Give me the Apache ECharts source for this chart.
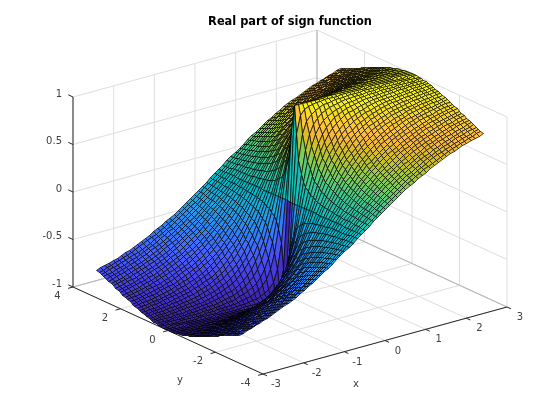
<!DOCTYPE html>
<html><head><meta charset="utf-8">
<style>html,body{margin:0;padding:0;background:#fff}#c{width:560px;height:420px}</style>
<script src="https://cdn.jsdelivr.net/npm/echarts@6/dist/echarts.min.js"></script>
</head><body><div id="c"></div>
<script>
const titleText = 'Real part of sign function';
const xTicks = [-3,-2,-1,0,1,2,3];
const yTicks = [-4,-2,0,2,4];
const zTicks = [-1,-0.5,0,0.5,1];
const xName = 'x', yName = 'y';
// surface heights for x = 0, .1 ... 3 (rows) and |y| = 0, .1 ... 3 (columns); other quadrants mirror it
const zQuadrant = [
[0,0,0,0,0,0,0,0,0,0,0,0,0,0,0,0,0,0,0,0,0,0,0,0,0,0,0,0,0,0,0],
[1,.707,.447,.316,.243,.196,.164,.141,.124,.110,.100,.090,.083,.077,.071,.067,.062,.059,.055,.053,.050,.048,.045,.043,.042,.040,.038,.037,.036,.034,.033],
[1,.894,.707,.555,.447,.371,.316,.275,.243,.217,.196,.179,.164,.152,.141,.132,.124,.117,.110,.105,.100,.095,.090,.087,.083,.080,.077,.074,.071,.069,.067],
[1,.949,.832,.707,.600,.514,.447,.394,.351,.316,.287,.263,.243,.225,.210,.196,.184,.174,.164,.156,.148,.141,.135,.129,.124,.119,.115,.110,.107,.103,.100],
[1,.970,.894,.800,.707,.625,.555,.496,.447,.406,.371,.342,.316,.294,.275,.258,.243,.229,.217,.206,.196,.187,.179,.171,.164,.158,.152,.147,.141,.137,.132],
[1,.981,.928,.857,.781,.707,.640,.581,.530,.486,.447,.414,.385,.359,.336,.316,.298,.282,.268,.254,.243,.232,.222,.212,.204,.196,.189,.182,.176,.170,.164],
[1,.986,.949,.894,.832,.768,.707,.651,.600,.555,.514,.479,.447,.419,.394,.371,.351,.333,.316,.301,.287,.275,.263,.252,.243,.233,.225,.217,.210,.203,.196],
[1,.990,.962,.919,.868,.814,.759,.707,.659,.614,.573,.537,.504,.474,.447,.423,.401,.381,.362,.346,.330,.316,.303,.291,.280,.270,.260,.251,.243,.235,.227],
[1,.992,.970,.936,.894,.848,.800,.753,.707,.664,.625,.588,.555,.524,.496,.471,.447,.426,.406,.388,.371,.356,.342,.329,.316,.305,.294,.284,.275,.266,.258],
[1,.994,.976,.949,.914,.874,.832,.789,.747,.707,.669,.633,.600,.569,.541,.514,.490,.468,.447,.428,.410,.394,.379,.364,.351,.339,.327,.316,.306,.296,.287],
[1,.995,.981,.958,.928,.894,.857,.819,.781,.743,.707,.673,.640,.610,.581,.555,.530,.507,.486,.466,.447,.430,.414,.399,.385,.371,.359,.347,.336,.326,.316],
[1,.996,.984,.965,.940,.910,.878,.844,.809,.774,.740,.707,.676,.646,.618,.591,.567,.543,.521,.501,.482,.464,.447,.431,.417,.403,.390,.377,.366,.355,.344],
[1,.997,.986,.970,.949,.923,.894,.864,.832,.800,.768,.737,.707,.678,.651,.625,.600,.577,.555,.534,.514,.496,.479,.463,.447,.433,.419,.406,.394,.382,.371],
[1,.997,.988,.974,.956,.933,.908,.880,.852,.822,.793,.763,.735,.707,.680,.655,.631,.607,.585,.565,.545,.526,.509,.492,.476,.461,.447,.434,.421,.409,.398],
[1,.997,.990,.978,.962,.942,.919,.894,.868,.841,.814,.786,.759,.733,.707,.682,.659,.636,.614,.593,.573,.555,.537,.520,.504,.489,.474,.460,.447,.435,.423],
[1,.998,.991,.981,.966,.949,.928,.906,.882,.857,.832,.806,.781,.756,.731,.707,.684,.662,.640,.620,.600,.581,.563,.546,.530,.514,.500,.486,.472,.459,.447],
[1,.998,.992,.983,.970,.954,.936,.916,.894,.871,.848,.824,.800,.776,.753,.729,.707,.685,.664,.644,.625,.606,.588,.571,.555,.539,.524,.510,.496,.483,.471],
[1,.998,.993,.985,.973,.959,.943,.925,.905,.884,.862,.840,.817,.794,.772,.750,.728,.707,.687,.667,.648,.629,.611,.594,.578,.562,.547,.533,.519,.506,.493],
[1,.998,.994,.986,.976,.964,.949,.932,.914,.894,.874,.853,.832,.811,.789,.768,.747,.727,.707,.688,.669,.651,.633,.616,.600,.584,.569,.555,.541,.527,.514],
[1,.999,.994,.988,.979,.967,.954,.938,.922,.904,.885,.865,.845,.825,.805,.785,.765,.745,.726,.707,.689,.671,.654,.637,.621,.605,.590,.575,.561,.548,.535],
[1,.999,.995,.989,.981,.970,.958,.944,.928,.912,.894,.876,.857,.838,.819,.800,.781,.762,.743,.725,.707,.690,.673,.656,.640,.625,.610,.595,.581,.568,.555],
[1,.999,.995,.990,.982,.973,.962,.949,.935,.919,.903,.886,.868,.850,.832,.814,.795,.777,.759,.741,.724,.707,.690,.674,.659,.643,.628,.614,.600,.586,.573],
[1,.999,.996,.991,.984,.975,.965,.953,.940,.925,.910,.894,.878,.861,.844,.826,.809,.791,.774,.757,.740,.723,.707,.691,.676,.661,.646,.632,.618,.604,.591],
[1,.999,.996,.992,.985,.977,.968,.957,.945,.931,.917,.902,.886,.870,.854,.838,.821,.804,.787,.771,.755,.738,.722,.707,.692,.677,.663,.648,.635,.621,.608],
[1,.999,.997,.992,.986,.979,.970,.960,.949,.936,.923,.909,.894,.879,.864,.848,.832,.816,.800,.784,.768,.753,.737,.722,.707,.693,.678,.664,.651,.638,.625],
[1,.999,.997,.993,.987,.981,.972,.963,.952,.941,.928,.915,.902,.887,.872,.857,.842,.827,.811,.796,.781,.766,.751,.736,.721,.707,.693,.679,.666,.653,.640],
[1,.999,.997,.993,.988,.982,.974,.966,.956,.945,.933,.921,.908,.894,.880,.866,.852,.837,.822,.807,.793,.778,.763,.749,.735,.721,.707,.694,.680,.668,.655],
[1,.999,.997,.994,.989,.983,.976,.968,.959,.949,.938,.926,.914,.901,.888,.874,.860,.846,.832,.818,.804,.789,.775,.761,.747,.733,.720,.707,.694,.681,.669],
[1,.999,.997,.994,.990,.984,.978,.970,.961,.952,.942,.931,.919,.907,.894,.881,.868,.855,.841,.827,.814,.800,.786,.773,.759,.746,.733,.720,.707,.695,.682],
[1,.999,.998,.995,.991,.985,.979,.972,.964,.955,.945,.935,.924,.912,.900,.888,.876,.863,.850,.836,.823,.810,.797,.784,.770,.757,.744,.732,.719,.707,.695],
[1,.999,.998,.995,.991,.986,.981,.974,.966,.958,.949,.939,.928,.917,.906,.894,.882,.870,.857,.845,.832,.819,.806,.794,.781,.768,.756,.743,.731,.719,.707]
];
const parula = [[.2422,.1504,.6603],[.2504,.165,.7076],[.2578,.1818,.7511],[.2647,.1978,.7952],[.2706,.2147,.8364],[.2751,.2342,.871],[.2783,.2559,.8991],[.2803,.2782,.9221],[.2813,.3006,.9414],[.281,.3228,.9579],[.2795,.3447,.9717],[.276,.3667,.9829],[.2699,.3892,.9906],[.2602,.4123,.9952],[.244,.4358,.9988],[.2206,.4603,.9973],[.1963,.4847,.9892],[.1834,.5074,.9798],[.1786,.5289,.9682],[.1764,.5499,.952],[.1687,.5703,.9359],[.154,.5902,.9218],[.146,.6091,.9079],[.138,.6276,.8973],[.1248,.6459,.8883],[.1113,.6635,.8763],[.0952,.6798,.8598],[.0689,.6948,.8394],[.0297,.7082,.8163],[.0036,.7203,.7917],[.0067,.7312,.766],[.0433,.7411,.7394],[.0964,.75,.712],[.1408,.7584,.6842],[.1717,.767,.6554],[.1938,.7758,.6251],[.2161,.7843,.5923],[.247,.7918,.5567],[.2906,.7973,.5188],[.3406,.8008,.4789],[.3909,.8029,.4354],[.4456,.8024,.3909],[.5044,.7993,.348],[.5616,.7942,.3045],[.6174,.7876,.2612],[.672,.7793,.2227],[.7242,.7698,.191],[.7738,.7598,.1646],[.8203,.7498,.1535],[.8634,.7406,.1596],[.9035,.733,.1774],[.9393,.7288,.21],[.9728,.7298,.2394],[.9956,.7434,.2371],[.997,.7659,.2199],[.9952,.7861,.199],[.9892,.8073,.1795],[.9786,.8292,.164],[.9676,.8533,.1487],[.961,.8825,.1233],[.9597,.9065,.1423],[.9628,.9373,.1265],[.9691,.9606,.1064],[.9769,.9839,.0805]];

// orthographic view of the box, in page pixels
const org = [263, 374], ex = [244/6, -67/6], ey = [-190/8, -87/8], ez = [0, -95];
function proj(x, y, z) {
  return [org[0] + (x+3)*ex[0] + (y+4)*ey[0],
          org[1] + (x+3)*ex[1] + (y+4)*ey[1] + (z+1)*ez[1]];
}
const zAt = (ix, iy) => { const s = Math.sign(ix-30); return s * zQuadrant[Math.abs(ix-30)][Math.abs(iy-30)]; };
const gx = i => -3 + i*0.1;

function colorOf(z) {
  const k = Math.min(63, Math.max(0, Math.floor((z+1)/2*64)));
  const c = parula[k];
  return 'rgb(' + Math.round(c[0]*255) + ',' + Math.round(c[1]*255) + ',' + Math.round(c[2]*255) + ')';
}

// box
const GRID = '#dedede', BACK = '#b4b4b4', AXIS = '#262626';
const segs = [];
const seg = (a, b, c) => segs.push([...a, ...b, c]);
xTicks.forEach(x => { seg([x,-4,-1],[x,4,-1],GRID); seg([x,4,-1],[x,4,1],GRID); });
yTicks.forEach(y => { seg([-3,y,-1],[3,y,-1],GRID); seg([3,y,-1],[3,y,1],GRID); });
zTicks.forEach(z => { seg([-3,4,z],[3,4,z],GRID); seg([3,-4,z],[3,4,z],GRID); });
seg([-3,4,-1],[3,4,-1],BACK); seg([3,-4,-1],[3,4,-1],BACK); seg([3,4,-1],[3,4,1],BACK);
seg([-3,-4,-1],[3,-4,-1],AXIS); seg([-3,-4,-1],[-3,4,-1],AXIS); seg([-3,4,-1],[-3,4,1],AXIS);
xTicks.forEach(x => seg([x,-4,-1],[x,-4.17,-1],AXIS));
yTicks.forEach(y => seg([-3,y,-1],[-3.12,y,-1],AXIS));
zTicks.forEach(z => seg([-3,4,z],[-3,4.2,z],AXIS));

// surface cells, far corner first
const cells = [];
for (let i = 59; i >= 0; i--) for (let j = 59; j >= 0; j--) cells.push([i, j]);

// labels
const labels = [];
const lab = (t, p, dx, dy, align) => labels.push([String(t), p[0]+dx, p[1]+dy, align]);
xTicks.forEach(x => lab(x, proj(x,-4,-1), 13, 10.5, 'center'));
yTicks.forEach(y => lab(y, proj(-3,y,-1), -12.5, 9.5, 'right'));
zTicks.forEach(z => lab(z, proj(-3,4,z), -11, -3, 'right'));
lab(xName, proj(0,-4,-1), -29, 43.5, 'center');
lab(yName, proj(-3,0,-1), 12, 49.5, 'center');

const snap = v => Math.floor(v) + 0.5;

const chart = echarts.init(document.getElementById('c'), null, {renderer:'canvas'});
chart.setOption({
  animation:false,
  backgroundColor:'#fff',
  title:{text:titleText,left:285,top:12,textAlign:'center',
    textStyle:{fontFamily:'DejaVu Sans',fontWeight:'bold',fontSize:11.4,color:'#000'}},
  grid:{left:0,right:0,top:0,bottom:0},
  xAxis:{type:'value',min:0,max:560,show:false},
  yAxis:{type:'value',min:0,max:420,inverse:true,show:false},
  series:[
    {type:'custom',coordinateSystem:'cartesian2d',silent:true,z:1,clip:false,progressive:0,
     data:segs.map((s,i)=>[i]),
     renderItem(p,api){
       const s=segs[api.value(0)];
       const a=api.coord(proj(s[0],s[1],s[2])), b=api.coord(proj(s[3],s[4],s[5]));
       return {type:'line',shape:{x1:a[0],y1:a[1],x2:b[0],y2:b[1]},style:{stroke:s[6],lineWidth:1,fill:null}};
     }},
    {type:'custom',coordinateSystem:'cartesian2d',silent:true,z:2,clip:false,progressive:0,
     data:cells,
     renderItem(p,api){
       const i=api.value(0), j=api.value(1);
       const c=[[i,j],[i+1,j],[i+1,j+1],[i,j+1]];
       const pts=c.map(q=>{const a=api.coord(proj(gx(q[0]),gx(q[1]),zAt(q[0],q[1])));return [snap(a[0]),snap(a[1])];});
       return {type:'polygon',shape:{points:pts},
         style:{fill:colorOf(zAt(i,j)),stroke:'#000',lineWidth:0.7}};
     }},
    {type:'custom',coordinateSystem:'cartesian2d',silent:true,z:3,clip:false,progressive:0,
     data:labels.map((l,i)=>[i]),
     renderItem(p,api){
       const l=labels[api.value(0)], a=api.coord([l[1],l[2]]);
       return {type:'text',style:{text:l[0],x:a[0],y:a[1],textAlign:l[3],textVerticalAlign:'middle',
         font:'10px "DejaVu Sans"',fill:'#404040'}};
     }}
  ]
});
</script></body></html>
